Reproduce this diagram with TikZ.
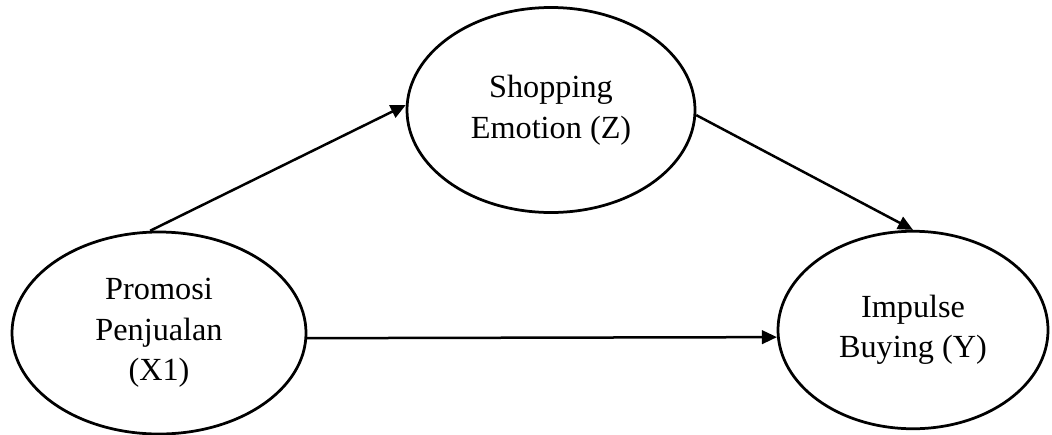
\documentclass[tikz,border=0pt]{standalone}
\usepackage{fontspec}
\setmainfont{Liberation Serif}
\usetikzlibrary{shapes.geometric,arrows.meta}

\tikzset{
  var/.style={draw, ellipse, line width=1.1pt, inner sep=0pt, align=center,
    font=\fontsize{12.9}{16.2}\selectfont},
  link/.style={draw, line width=1pt, -{Triangle[length=6pt,width=5.4pt]}}
}

\begin{document}
\begin{tikzpicture}[x=0.4pt,y=-0.4pt]
\useasboundingbox (0,0) rectangle (1052,434);

\node[var, minimum width=117.6pt, minimum height=80.8pt] (pro) at (159,333) {Promosi\\Penjualan\\(X1)};
\node[var, minimum width=115.2pt, minimum height=82pt] (sho) at (551,110) {Shopping\\Emotion (Z)};
\node[var, minimum width=108pt, minimum height=79pt] (imp) at (913,330) {Impulse\\Buying (Y)};

\path (pro.95) edge[link] (sho.178);
\path (sho.-2) edge[link] (imp.north);
\path (pro.-2) edge[link] (imp.183);
\end{tikzpicture}
\end{document}
